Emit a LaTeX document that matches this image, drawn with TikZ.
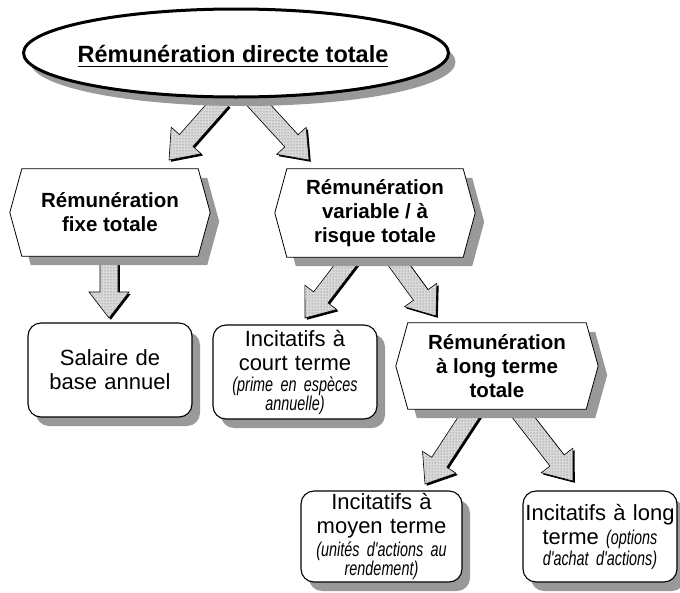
\documentclass[tikz,border=0pt]{standalone}
\usepackage{fontspec}
\setmainfont{Liberation Sans}
\newfontfamily\condfont[FakeStretch=0.72,WordSpace=0.55]{Liberation Sans}
\usetikzlibrary{calc,patterns,shadows,shapes.geometric}
\pgfdeclarelayer{arrowlayer}
\pgfdeclarelayer{hexlayer}
\pgfsetlayers{arrowlayer,hexlayer,main}
\newcommand\itsm{\fontsize{20}{19}\selectfont\condfont\itshape}
\newcommand\myul[1]{\setbox0=\hbox{#1}\rlap{\rule[-5pt]{\wd0}{1.8pt}}\box0}
\newcommand\arrowpoly[2]{($(#1)!9pt!90:(#2)$) -- ($(#1H)!9pt!90:(#2)$) -- ($(#1H)!20pt!90:(#2)$) -- (#2) -- ($(#1H)!20pt!-90:(#2)$) -- ($(#1H)!9pt!-90:(#2)$) -- ($(#1)!9pt!-90:(#2)$) -- cycle}
\newcommand\blockarrow[2]{%
  \coordinate (#1H) at ($(#2)!26pt!(#1)$);
  \begin{scope}[transform canvas={xshift=1.8pt,yshift=-1.8pt}]
    \fill[black] \arrowpoly{#1}{#2};
  \end{scope}
  \path[preaction={fill=black!15}, pattern=dots, pattern color=black!60, draw=black, line width=0.6pt] \arrowpoly{#1}{#2};
}
\newcommand\hexpath[3]{([shift={(#2,#3)}]#1.west) -- ([shift={(#2+12,#3)}]#1.north west) -- ([shift={(#2-12,#3)}]#1.north east) -- ([shift={(#2,#3)}]#1.east) -- ([shift={(#2-12,#3)}]#1.south east) -- ([shift={(#2+12,#3)}]#1.south west) -- cycle}
\colorlet{shadowc}{black!40}
\begin{document}
\begin{tikzpicture}[x=1pt,y=-1pt,
  hexnode/.style={align=center, inner sep=0pt, font=\fontsize{20.5}{24}\selectfont\bfseries},
  rbox/.style={draw, line width=1.1pt, rounded corners=13pt, fill=white, align=center, inner sep=0pt,
    drop shadow={shadow xshift=8pt, shadow yshift=-9pt, fill=shadowc, opacity=1},
    font=\fontsize{22}{24}\selectfont},
]
\useasboundingbox (0,0) rectangle (680,592);

% title
\node[ellipse, draw, line width=3pt, fill=white, inner sep=0pt, minimum width=425pt, minimum height=88pt,
  text depth=0pt,
  drop shadow={shadow xshift=7pt, shadow yshift=-9pt, fill=shadowc, opacity=1},
  font=\fontsize{23.5}{28}\selectfont\bfseries] (ell) at (236,53)
  {\makebox[0pt]{\hspace{-6pt}\raisebox{-1.5pt}{\myul{Rémunération directe totale}}}};

% hexagons
\node[hexnode, minimum width=200pt, minimum height=87pt] (h1) at (110,212.5) {Rémunération\\fixe totale};
\node[hexnode, minimum width=200pt, minimum height=88pt] (h2) at (375,213) {Rémunération\\variable / à\\risque totale};
\node[hexnode, minimum width=202pt, minimum height=86pt] (h3) at (497,366) {Rémunération\\à long terme\\totale};

\begin{pgfonlayer}{hexlayer}
  \foreach \h in {h1,h2,h3}{
    \fill[shadowc] \hexpath{\h}{9}{9};
    \filldraw[fill=white, line width=0.8pt] \hexpath{\h}{0}{0};
  }
\end{pgfonlayer}

% rounded boxes
\node[rbox, minimum width=164pt, minimum height=94pt, text width=160pt] (sal) at (110,370)
  {Salaire de\\base annuel};
\node[rbox, minimum width=164pt, minimum height=94pt, text width=158pt] (court) at (295,372)
  {Incitatifs à\\court terme\par\vspace{2pt}{\itsm (prime en espèces\\annuelle)\par}};
\node[rbox, minimum width=161pt, minimum height=91pt, text width=155pt] (moy) at (381.5,536.5)
  {Incitatifs à\\moyen terme\par\vspace{2pt}{\itsm (unités d'actions au\\rendement)\par}};
\node[rbox, minimum width=154pt, minimum height=91pt, text width=154pt] (lng) at (600,536.5)
  {\mbox{Incitatifs à long}\\terme {\itsm (options}\par\vspace{2pt}{\itsm d'achat d'actions)\par}};

% arrows
\coordinate (a1s) at (222,100); \coordinate (a1t) at (169,160);
\coordinate (a2s) at (254,100); \coordinate (a2t) at (309,160);
\coordinate (a3s) at (109,250); \coordinate (a3t) at (109,318);
\coordinate (a4s) at (357,250); \coordinate (a4t) at (305,318);
\coordinate (a5s) at (388,250); \coordinate (a5t) at (436,316);
\coordinate (a6s) at (480,400); \coordinate (a6t) at (425,484);
\coordinate (a7s) at (510,400); \coordinate (a7t) at (573,481);
\begin{pgfonlayer}{arrowlayer}
  \blockarrow{a1s}{a1t}
  \blockarrow{a2s}{a2t}
  \blockarrow{a3s}{a3t}
  \blockarrow{a4s}{a4t}
  \blockarrow{a5s}{a5t}
  \blockarrow{a6s}{a6t}
  \blockarrow{a7s}{a7t}
\end{pgfonlayer}
\end{tikzpicture}
\end{document}
